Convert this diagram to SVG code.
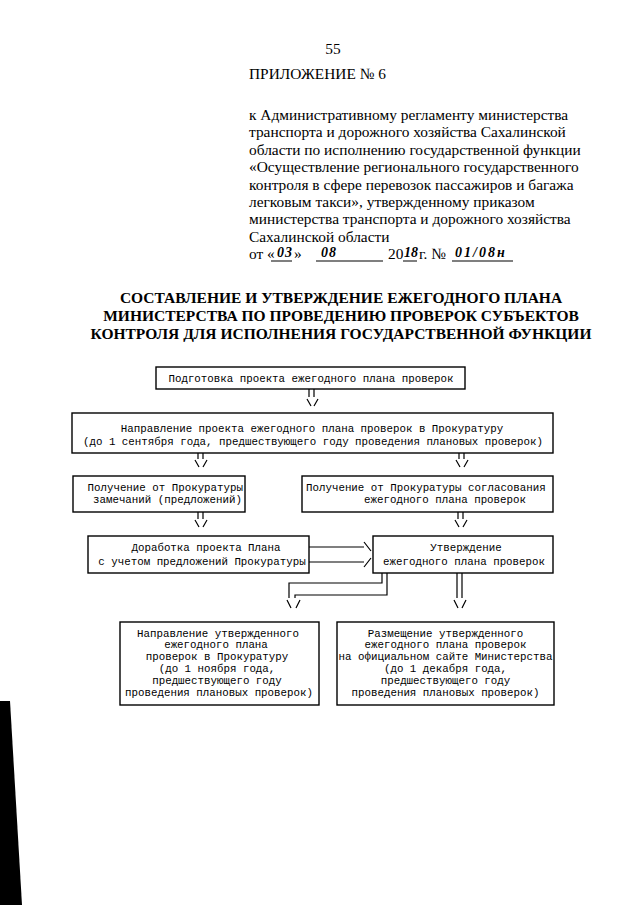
<svg xmlns="http://www.w3.org/2000/svg" width="640" height="905" viewBox="0 0 640 905">
<style>
.hd{font-family:"Liberation Serif","Times New Roman",serif;font-size:15.4px;fill:#000}
.tt{font-family:"Liberation Serif","Times New Roman",serif;font-size:15.5px;font-weight:bold;fill:#000;text-anchor:middle}
.hw{font-family:"Liberation Serif","Times New Roman",serif;font-size:14px;font-style:italic;font-weight:bold;fill:#000}
.m{font-family:"Liberation Mono","Courier New",monospace;font-size:10.8px;fill:#000}
.c{text-anchor:middle}
.e{text-anchor:end}
.box{fill:none;stroke:#000;stroke-width:1.4}
.ln{fill:none;stroke:#000;stroke-width:1.2}
</style>
<rect width="640" height="905" fill="#fff"/>
<polygon points="0,701 10,701 22,905 0,905" fill="#000"/>
<g id="header">
<text class="hd" x="333" y="54" text-anchor="middle">55</text>
<text class="hd" x="249" y="79">ПРИЛОЖЕНИЕ № 6</text>
<text class="hd" x="249" y="120">к Административному регламенту министерства</text>
<text class="hd" x="249" y="137.4">транспорта и дорожного хозяйства Сахалинской</text>
<text class="hd" x="249" y="154.8">области по исполнению государственной функции</text>
<text class="hd" x="249" y="172.2">«Осуществление регионального государственного</text>
<text class="hd" x="249" y="189.6">контроля в сфере перевозок пассажиров и багажа</text>
<text class="hd" x="249" y="207">легковым такси», утвержденному приказом</text>
<text class="hd" x="249" y="224.4">министерства транспорта и дорожного хозяйства</text>
<text class="hd" x="249" y="241.8">Сахалинской области</text>
<text class="hd" x="249" y="259.2">от «</text>
<text class="hw" x="277" y="257" letter-spacing="1">03</text>
<text class="hd" x="294" y="259.2">»</text>
<text class="hw" x="321" y="257" letter-spacing="1">08</text>
<text class="hd" x="388" y="259.2">20</text>
<text class="hw" x="404" y="257" font-size="12.5">18</text>
<text class="hd" x="419" y="259.2">г. №</text>
<text class="hw" x="455" y="257" letter-spacing="2">01/08н</text>
<path class="ln" d="M271,261H292M316,261H383M403,261H417M452,261H513"/>
</g>
<g id="title">
<text class="tt" x="341" y="303">СОСТАВЛЕНИЕ И УТВЕРЖДЕНИЕ ЕЖЕГОДНОГО ПЛАНА</text>
<text class="tt" x="341" y="321">МИНИСТЕРСТВА ПО ПРОВЕДЕНИЮ ПРОВЕРОК СУБЪЕКТОВ</text>
<text class="tt" x="341" y="339">КОНТРОЛЯ ДЛЯ ИСПОЛНЕНИЯ ГОСУДАРСТВЕННОЙ ФУНКЦИИ</text>
</g>
<g id="n1">
<rect class="box" x="156" y="367" width="309" height="22"/>
<text class="m c" x="311" y="381.5">Подготовка проекта ежегодного плана проверок</text>
</g>
<g id="n2">
<rect class="box" x="72" y="413" width="481" height="40"/>
<text class="m c" x="312" y="432">Направление проекта ежегодного плана проверок в Прокуратуру</text>
<text class="m c" x="313" y="445">(до 1 сентября года, предшествующего году проведения плановых проверок)</text>
</g>
<g id="n3">
<rect class="box" x="73" y="476" width="172" height="36"/>
<text class="m e" x="243" y="490.5">Получение от Прокуратуры</text>
<text class="m e" x="242" y="502.5">замечаний (предложений)</text>
</g>
<g id="n4">
<rect class="box" x="302" y="476" width="251" height="36"/>
<text class="m" x="306" y="490.5">Получение от Прокуратуры согласования</text>
<text class="m" x="364" y="502.5">ежегодного плана проверок</text>
</g>
<g id="n5">
<rect class="box" x="88" y="536" width="221" height="37"/>
<text class="m c" x="206" y="551">Доработка проекта Плана</text>
<text class="m c" x="202" y="565">с учетом предложений Прокуратуры</text>
</g>
<g id="n6">
<rect class="box" x="373" y="536" width="180" height="37"/>
<text class="m c" x="466" y="551">Утверждение</text>
<text class="m c" x="464" y="565">ежегодного плана проверок</text>
</g>
<g id="n7">
<rect class="box" x="120" y="622" width="199" height="83"/>
<text class="m c" x="218" y="636.5">Направление утвержденного</text>
<text class="m c" x="216" y="648.3">ежегодного плана</text>
<text class="m c" x="217" y="660.1">проверок в Прокуратуру</text>
<text class="m c" x="217" y="671.9">(до 1 ноября года,</text>
<text class="m c" x="217" y="683.7">предшествующего году</text>
<text class="m c" x="219" y="695.5">проведения плановых проверок)</text>
</g>
<g id="n8">
<rect class="box" x="337" y="622" width="217" height="83"/>
<text class="m c" x="445.5" y="636.5">Размещение утвержденного</text>
<text class="m c" x="445.5" y="648.3">ежегодного плана проверок</text>
<text class="m c" x="445.5" y="660.1">на официальном сайте Министерства</text>
<text class="m c" x="445.5" y="671.9">(до 1 декабря года,</text>
<text class="m c" x="445.5" y="683.7">предшествующего году</text>
<text class="m c" x="445.5" y="695.5">проведения плановых проверок)</text>
</g>
<g id="connectors">
<path class="ln" d="M309,389V397M314,389V397M307,399L311,406M318,399L314,406"/>
<path class="ln" d="M198,453V459M203,453V459M195,460L199,467M207,460L203,467"/>
<path class="ln" d="M459,453V459M464,453V459M456,460L460,467M468,460L464,467"/>
<path class="ln" d="M198,512V519M203,512V519M195,520L199,527M207,520L203,527"/>
<path class="ln" d="M458,512V519M463,512V519M455,520L459,527M467,520L463,527"/>
<path class="ln" d="M309,547H364M309,562H364M364,542L371,551M364,567L371,558"/>
<path class="ln" d="M382,573V583H289V598M387,573V595H295V598M287,600L291,608M300,600L296,608"/>
<path class="ln" d="M457,573V598M462,573V598M454,600L458,608M466,600L462,608"/>
</g>
</svg>
